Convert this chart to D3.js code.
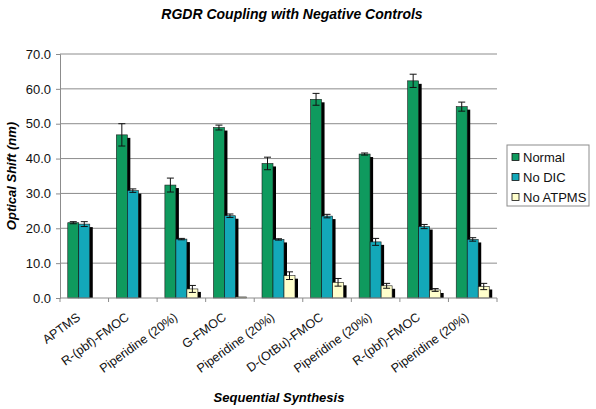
<!DOCTYPE html>
<html><head><meta charset="utf-8">
<script src="https://cdn.jsdelivr.net/npm/d3@7"></script>
<style>body{margin:0;background:#fff}svg{font-family:"Liberation Sans",Arial,sans-serif}</style>
</head><body><svg id="c" width="596" height="409"></svg>
<script>
const categories = ["APTMS","R-(pbf)-FMOC","Piperidine (20%)","G-FMOC","Piperidine (20%)","D-(OtBu)-FMOC","Piperidine (20%)","R-(pbf)-FMOC","Piperidine (20%)"];
const seriesNames = ["Normal","No DIC","No ATPMS"];
const normal = [21.6,46.8,32.4,48.9,38.6,57.0,41.3,62.3,54.9];
const normalErr = [0.3,3.2,2.0,0.7,1.8,1.7,0.3,1.9,1.3];
const noDIC = [21.2,30.8,16.9,23.6,16.8,23.5,16.1,20.5,16.8];
const noDICErr = [0.7,0.5,0.2,0.5,0.2,0.5,1.0,0.6,0.5];
const noATPMS = [null,null,2.6,0.3,6.4,4.5,3.5,2.3,3.3];
const noATPMSErr = [0,0,1.0,0,1.1,1.1,0.7,0.4,0.9];
const yTicks = [0,10,20,30,40,50,60,70];
const colors = ["#0f9a5e","#13a8b9","#ffffcc"];

const svg = d3.select("#c");
const L=60,R=497,T=54,B=298;
const x = d3.scaleBand().domain(d3.range(categories.length)).range([L,R]).paddingInner(0).paddingOuter(0);
const y = d3.scaleLinear().domain([0,70]).range([B,T]);
const bw = 11;
const xs = d3.scaleBand().domain([0,1,2]).range([0,bw*3]);

svg.append("g").selectAll("line").data(yTicks.slice(1)).join("line")
 .attr("x1",L).attr("x2",R).attr("y1",d=>y(d)).attr("y2",d=>y(d))
 .attr("stroke","#8c8c8c").attr("stroke-width",1);

const series = [[normal,normalErr],[noDIC,noDICErr],[noATPMS,noATPMSErr]];
const g = svg.append("g");
const off = (x.bandwidth()-bw*3)/2;
series.forEach((s,si)=>{
  const data = s[0].map((v,i)=>({i,v,e:s[1][i]})).filter(d=>d.v!=null);
  g.append("g").selectAll("rect").data(data).join("rect")
   .attr("x",d=>x(d.i)+off+xs(si)+3).attr("width",bw)
   .attr("y",d=>Math.min(y(d.v)+3,B)).attr("height",d=>Math.max(0,B-Math.min(y(d.v)+3,B)))
   .attr("fill","#000");
});
series.forEach((s,si)=>{
  const data = s[0].map((v,i)=>({i,v,e:s[1][i]})).filter(d=>d.v!=null);
  g.append("g").selectAll("rect").data(data).join("rect")
   .attr("x",d=>x(d.i)+off+xs(si)).attr("width",bw)
   .attr("y",d=>y(d.v)).attr("height",d=>B-y(d.v))
   .attr("fill",colors[si]).attr("stroke","#1a1a1a").attr("stroke-width",0.6);
  const eg = g.append("g").attr("stroke","#111").attr("stroke-width",1);
  data.filter(d=>d.e>0).forEach(d=>{
    const cx = x(d.i)+off+xs(si)+bw/2;
    eg.append("line").attr("x1",cx).attr("x2",cx).attr("y1",y(d.v+d.e)).attr("y2",y(d.v-d.e));
    eg.append("line").attr("x1",cx-3.5).attr("x2",cx+3.5).attr("y1",y(d.v+d.e)).attr("y2",y(d.v+d.e));
    eg.append("line").attr("x1",cx-3.5).attr("x2",cx+3.5).attr("y1",y(d.v-d.e)).attr("y2",y(d.v-d.e));
  });
});

const ya = svg.append("g").attr("transform",`translate(${L},0)`)
 .call(d3.axisLeft(y).tickValues(yTicks).tickFormat(d3.format(".1f")).tickSize(4).tickPadding(5));
ya.select(".domain").attr("stroke","#8c8c8c");
ya.selectAll(".tick line").attr("stroke","#8c8c8c");
ya.selectAll("text").attr("font-size",13).attr("fill","#111").attr("font-family","'Liberation Sans',Arial,sans-serif");

const xa = svg.append("g").attr("transform",`translate(0,${B})`);
xa.append("line").attr("x1",L).attr("x2",R).attr("stroke","#8c8c8c");
const tickPos = d3.range(categories.length+1).map(i=>L+i*x.bandwidth());
xa.selectAll(".t").data(tickPos).join("line").attr("x1",d=>d).attr("x2",d=>d).attr("y1",0).attr("y2",4).attr("stroke","#8c8c8c");
xa.selectAll("text").data(categories).join("text")
 .attr("transform",(d,i)=>`translate(${x(i)+x.bandwidth()/2-3},${21}) rotate(-36)`)
 .attr("text-anchor","end").attr("font-size",12.5).attr("fill","#111").text(d=>d);

svg.append("text").attr("x",292).attr("y",19).attr("text-anchor","middle")
 .attr("font-size",14).attr("font-weight","bold").attr("font-style","italic").text("RGDR Coupling with Negative Controls");
svg.append("text").attr("transform",`translate(16,${(T+B)/2}) rotate(-90)`).attr("text-anchor","middle")
 .attr("font-size",13).attr("font-weight","bold").attr("font-style","italic").text("Optical Shift (nm)");
svg.append("text").attr("x",279).attr("y",402).attr("text-anchor","middle")
 .attr("font-size",13).attr("font-weight","bold").attr("font-style","italic").text("Sequential Synthesis");

const lg = svg.append("g").attr("transform","translate(507,145)");
lg.append("rect").attr("width",82).attr("height",61).attr("fill","#fff").attr("stroke","#8c8c8c");
seriesNames.forEach((n,i)=>{
  const yy = 12+i*20;
  lg.append("rect").attr("x",5).attr("y",yy-3.5).attr("width",7).attr("height",7).attr("fill",colors[i]).attr("stroke","#111").attr("stroke-width",0.8);
  lg.append("text").attr("x",16).attr("y",yy+4.5).attr("font-size",13).attr("fill","#111").text(n);
});
</script></body></html>
